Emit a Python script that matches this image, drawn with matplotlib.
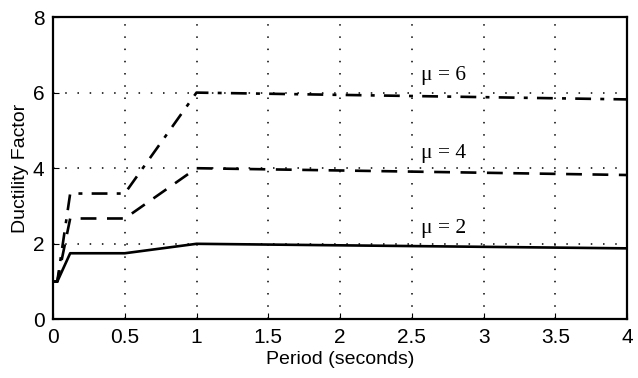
import matplotlib
matplotlib.use("Agg")
import matplotlib.pyplot as plt

period = [0.0, 0.03, 0.12, 0.5, 1.0, 1.5, 2.0, 2.5, 3.0, 3.5, 4.0]
mu2 = [1.0, 1.0, 1.75, 1.75, 2.0, 1.98, 1.96, 1.94, 1.92, 1.9, 1.88]
mu4 = [1.0, 1.0, 2.67, 2.67, 4.0, 3.97, 3.94, 3.91, 3.88, 3.85, 3.82]
mu6 = [1.0, 1.0, 3.33, 3.33, 6.0, 5.97, 5.94, 5.91, 5.88, 5.85, 5.82]
labels = ["μ = 2", "μ = 4", "μ = 6"]
label_pos = [(2.72, 2.4), (2.72, 4.4), (2.72, 6.45)]
xticks = [0, 0.5, 1, 1.5, 2, 2.5, 3, 3.5, 4]
xticklabels = ["0", "0.5", "1", "1.5", "2", "2.5", "3", "3.5", "4"]
yticks = [0, 2, 4, 6, 8]

plt.rcParams['font.family'] = ['Liberation Sans', 'DejaVu Sans']
fig = plt.figure(figsize=(6.38, 3.78), dpi=100)
ax = fig.add_axes([0.083, 0.155, 0.900, 0.80])

ax.plot(period, mu2, color='black', lw=1.9, linestyle='-')
ax.plot(period, mu4, color='black', lw=1.9, linestyle=(0, (6, 4)))
ax.plot(period, mu6, color='black', lw=1.9, linestyle=(0, (6, 3.5, 1.5, 3.5)))

for (x, y), t in zip(label_pos, labels):
    ax.text(x, y, t, ha='center', va='center', fontsize=15.5,
            family=['Liberation Serif', 'DejaVu Serif'])

ax.set_xlim(0, 4)
ax.set_ylim(0, 8)
ax.set_xticks(xticks)
ax.set_xticklabels(xticklabels)
ax.set_yticks(yticks)
ax.grid(True, color='black', linestyle=(0, (1, 7)), lw=1.1)
ax.tick_params(direction='in', labelsize=15, length=4, pad=6)
for s in ax.spines.values():
    s.set_linewidth(1.6)
ax.set_xlabel("Period (seconds)", fontsize=14, labelpad=3)
ax.set_ylabel("Ductility Factor", fontsize=14, labelpad=3)

fig.savefig("out.png", dpi=100)
